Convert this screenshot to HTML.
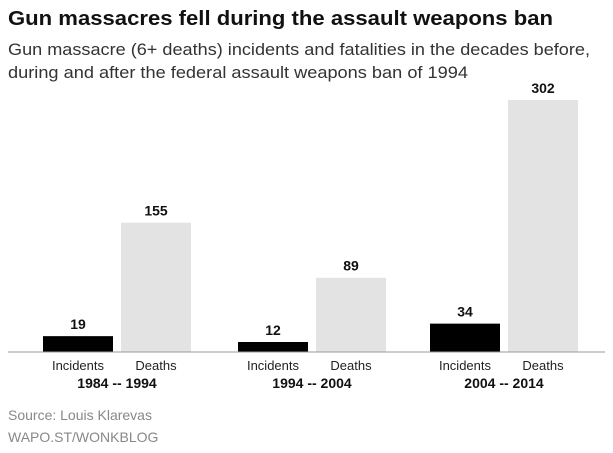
<!DOCTYPE html>
<html><head><meta charset="utf-8"><style>
body{margin:0;width:613px;height:448px;background:#fff;overflow:hidden;font-family:"Liberation Sans",sans-serif}
</style></head><body>
<svg width="613" height="448">
<text x="8" y="25" font-size="20" font-weight="bold" fill="#111" textLength="545" lengthAdjust="spacingAndGlyphs">Gun massacres fell during the assault weapons ban</text>
<text x="8" y="55" font-size="16.5" fill="#333" textLength="582" lengthAdjust="spacingAndGlyphs">Gun massacre (6+ deaths) incidents and fatalities in the decades before,</text>
<text x="8" y="78" font-size="16.5" fill="#333" textLength="460" lengthAdjust="spacingAndGlyphs">during and after the federal assault weapons ban of 1994</text>
<g id="bars"></g>
<line x1="8" y1="352" x2="605" y2="352" stroke="#999" stroke-width="1"/>
<text x="8" y="420" font-size="14" fill="#888">Source: Louis Klarevas</text>
<text x="8" y="442" font-size="14" fill="#888">WAPO.ST/WONKBLOG</text>
</svg>
<script>
const periods=["1984 -- 1994","1994 -- 2004","2004 -- 2014"];
const incidents=[19,12,34];
const deaths=[155,89,302];
const groupX=[43,238,430];
const base=352, scale=252/302, bw=70;
const y=v=>base-v*scale;
const g=document.getElementById('bars');
const NS="http://www.w3.org/2000/svg";
function add(tag,attrs,text){const e=document.createElementNS(NS,tag);for(const k in attrs)e.setAttribute(k,attrs[k]);if(text!=null)e.textContent=text;g.appendChild(e);return e;}
periods.forEach((p,i)=>{
  const x0=groupX[i], x1=x0+78;
  let r=add('rect',{x:x0,y:y(incidents[i]),width:bw,height:incidents[i]*scale,fill:'#000'});
  
  
  r=add('rect',{x:x1,y:y(deaths[i]),width:bw,height:deaths[i]*scale,fill:'#e3e3e3'});
  
  
  let t=add('text',{x:x0+bw/2,y:y(incidents[i])-7,'font-size':14,'font-weight':'bold','text-anchor':'middle',fill:'#111'},incidents[i]);
  
  
  t=add('text',{x:x1+bw/2,y:y(deaths[i])-7,'font-size':14,'font-weight':'bold','text-anchor':'middle',fill:'#111'},deaths[i]);
  
  
  t=add('text',{x:x0+bw/2,y:370,'font-size':13,'text-anchor':'middle',fill:'#222'},'Incidents');
  
  
  t=add('text',{x:x1+bw/2,y:370,'font-size':13,'text-anchor':'middle',fill:'#222'},'Deaths');
  
  
  t=add('text',{x:(x0+x1+bw)/2,y:388,'font-size':14,'font-weight':'bold','text-anchor':'middle',fill:'#111'},p);
  
  
});
</script>
</body></html>
